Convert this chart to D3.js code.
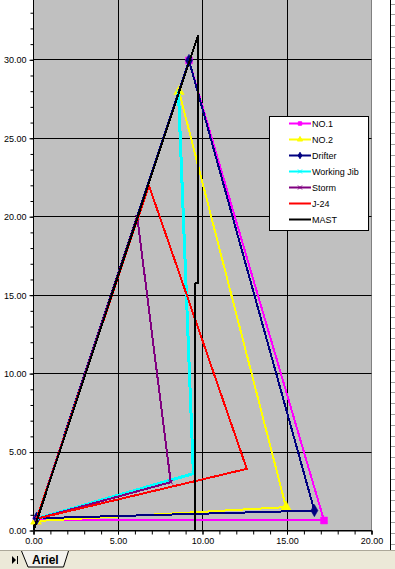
<!DOCTYPE html>
<html>
<head>
<meta charset="utf-8">
<script src="https://cdn.jsdelivr.net/npm/d3@7"></script>
<style>
  body { margin: 0; background: #fff; }
  svg { display: block; font-family: "Liberation Sans", Arial, sans-serif; }
</style>
</head>
<body>
<div id="chart"></div>
<script>
// sail plan points (x = length along boom, y = height), tack -> clew -> head -> tack
const seriesNames = ["NO.1", "NO.2", "Drifter", "Working Jib", "Storm", "J-24", "MAST"];
const no1X = [0.19, 17.19, 9.20, 0.19];
const no1Y = [0.64, 0.64, 29.96, 0.64];
const no2X = [0.15, 14.94, 8.61, 0.15];
const no2Y = [0.60, 1.49, 27.98, 0.60];
const drifterX = [0.19, 16.62, 9.20, 0.19];
const drifterY = [0.78, 1.27, 29.96, 0.78];
const jibX = [0.19, 9.46, 8.58];
const jibY = [0.75, 3.63, 27.90];
const stormX = [0.19, 8.12, 6.14, 0.19];
const stormY = [0.75, 3.08, 19.97, 0.75];
const j24X = [0.19, 12.62, 6.83, 0.19];
const j24Y = [0.75, 3.93, 21.99, 0.75];
const mastX = [0, 9.73, 9.73, 9.55, 9.55];
const mastY = [0, 31.55, 15.75, 15.75, 0];

const xMajor = [0, 5, 10, 15, 20];
const yMajor = [0, 5, 10, 15, 20, 25, 30];

const W = 395, H = 569;
const crisp = v => Math.round(v - 0.5) + 0.5;

const x = d3.scaleLinear().domain([0, 20]).range([33.5, 371.5]);
const y = d3.scaleLinear().domain([0, 35]).range([530.5, 530.5 - 35 * 15.69]);

const svg = d3.select("#chart").append("svg")
    .attr("width", W)
    .attr("height", H);

// plot area
svg.append("rect")
    .attr("x", x(0)).attr("y", 0)
    .attr("width", x(20) - x(0)).attr("height", y(0))
    .attr("fill", "#c0c0c0");
svg.append("line")
    .attr("x1", x(20)).attr("x2", x(20))
    .attr("y1", 0).attr("y2", y(0))
    .attr("stroke", "#808080");

// gridlines
svg.append("g").selectAll("line")
    .data(xMajor.filter(d => d > 0 && d < 20))
    .join("line")
    .attr("x1", d => crisp(x(d))).attr("x2", d => crisp(x(d)))
    .attr("y1", 0).attr("y2", y(0))
    .attr("stroke", "#000");
svg.append("g").selectAll("line")
    .data(yMajor.filter(d => d > 0))
    .join("line")
    .attr("x1", x(0)).attr("x2", x(20))
    .attr("y1", d => crisp(y(d))).attr("y2", d => crisp(y(d)))
    .attr("stroke", "#000");

// axes
const xMinor = d3.axisBottom(x).tickValues(d3.range(0, 21)).tickSize(4).tickFormat("");
const xAxis = d3.axisBottom(x).tickValues(xMajor).tickSize(4).tickFormat(d3.format(".2f"));
const yMinor = d3.axisLeft(y).tickValues(d3.range(0, 34)).tickSize(3).tickFormat("");
const yAxis = d3.axisLeft(y).tickValues(yMajor).tickSize(4).tickFormat(d3.format(".2f"));

svg.append("g").attr("transform", `translate(0,${y(0)})`).call(xMinor);
svg.append("g").attr("transform", `translate(0,${y(0)})`).call(xAxis)
    .call(g => g.select(".domain").attr("d", `M${x(0)},0H${x(20)}`));
svg.append("g").attr("transform", `translate(${x(0)},0)`).call(yMinor)
    .call(g => g.select(".domain").remove());
svg.append("g").attr("transform", `translate(${x(0)},0)`).call(yAxis)
    .call(g => g.select(".domain").attr("d", `M0,0V${y(0)}`));

svg.selectAll(".tick text")
    .attr("font-size", 9)
    .attr("font-family", "'Liberation Sans', Arial, sans-serif")
    .attr("fill", "#000");
svg.selectAll(".tick line").attr("stroke", "#000");
svg.selectAll(".domain").attr("stroke", "#000");

// series
const series = [
    { name: seriesNames[0], xs: no1X, ys: no1Y, color: "#ff00ff", width: 2, marker: "square" },
    { name: seriesNames[1], xs: no2X, ys: no2Y, color: "#ffff00", width: 2, marker: "triangle" },
    { name: seriesNames[2], xs: drifterX, ys: drifterY, color: "#000080", width: 2, marker: "diamond" },
    { name: seriesNames[3], xs: jibX, ys: jibY, color: "#00ffff", width: 3, marker: "x" },
    { name: seriesNames[4], xs: stormX, ys: stormY, color: "#800080", width: 2, marker: "x" },
    { name: seriesNames[5], xs: j24X, ys: j24Y, color: "#ff0000", width: 2, marker: null },
    { name: seriesNames[6], xs: mastX, ys: mastY, color: "#000000", width: 2, marker: null }
];

const markerPath = {
    square: d3.symbol(d3.symbolSquare, 48)(),
    triangle: d3.symbol(d3.symbolTriangle, 48)(),
    diamond: d3.symbol(d3.symbolDiamond, 44)(),
    x: d3.symbol(d3.symbolX, 14)()
};

const line = d3.line().x(d => x(d[0])).y(d => y(d[1]));

series.forEach(s => {
    const pts = s.xs.map((v, i) => [v, s.ys[i]]);
    const g = svg.append("g");
    g.append("path")
        .attr("d", line(pts))
        .attr("fill", "none")
        .attr("stroke", s.color)
        .attr("stroke-width", s.width)
        .attr("stroke-linejoin", "round")
        .attr("shape-rendering", "crispEdges");
    if (s.marker) {
        g.selectAll("path.mk")
            .data(pts)
            .join("path")
            .attr("class", "mk")
            .attr("d", markerPath[s.marker])
            .attr("transform", d => `translate(${x(d[0])},${y(d[1])})`)
            .attr("fill", s.color)
            .attr("stroke", s.color)
            .attr("stroke-width", s.marker === "x" ? 1 : 0.5);
    }
});

// legend
const legend = svg.append("g");
legend.append("rect")
    .attr("x", 269.5).attr("y", 116.5)
    .attr("width", 99).attr("height", 114)
    .attr("fill", "#fff").attr("stroke", "#000");
const rows = legend.selectAll("g")
    .data(series)
    .join("g")
    .attr("transform", (d, i) => `translate(0,${123.5 + i * 16})`);
rows.append("line")
    .attr("x1", 289).attr("x2", 311)
    .attr("stroke", d => d.color)
    .attr("stroke-width", 2);
rows.filter(d => d.marker)
    .append("path")
    .attr("d", d => d3.symbol(d.marker === "square" ? d3.symbolSquare
        : d.marker === "triangle" ? d3.symbolTriangle
        : d.marker === "diamond" ? d3.symbolDiamond : d3.symbolX, 12)())
    .attr("transform", "translate(300,0)")
    .attr("fill", d => d.color)
    .attr("stroke", d => d.color);
rows.append("text")
    .attr("x", 312)
    .attr("dy", "0.35em")
    .attr("font-size", 9)
    .text(d => d.name);

// ruler strip on the right edge
svg.append("line")
    .attr("x1", 390.5).attr("x2", 390.5)
    .attr("y1", 0).attr("y2", 550)
    .attr("stroke", "#000");
svg.append("g").selectAll("line")
    .data(d3.range(4, 550, 10.8))
    .join("line")
    .attr("x1", 391).attr("x2", 395)
    .attr("y1", d => crisp(d)).attr("y2", d => crisp(d))
    .attr("stroke", "#a0a0a0");

// sheet tab bar
const tabs = svg.append("g");
tabs.append("rect")
    .attr("x", 0).attr("y", 550)
    .attr("width", W).attr("height", H - 550)
    .attr("fill", "#ece9d8");
tabs.append("line")
    .attr("x1", 0).attr("x2", W)
    .attr("y1", 550.5).attr("y2", 550.5)
    .attr("stroke", "#aca899");
tabs.append("path")
    .attr("d", "M12,556L16,560L12,564Z")
    .attr("fill", "#000");
tabs.append("line")
    .attr("x1", 17.5).attr("x2", 17.5)
    .attr("y1", 556).attr("y2", 564)
    .attr("stroke", "#000");
tabs.append("path")
    .attr("d", "M21.5,551L28,567H63.5L68.5,551")
    .attr("fill", "#f4f3ee")
    .attr("stroke", "#000");
tabs.append("text")
    .attr("x", 32)
    .attr("y", 564)
    .attr("font-size", 12)
    .attr("font-weight", "bold")
    .text("Ariel");
</script>
</body>
</html>
